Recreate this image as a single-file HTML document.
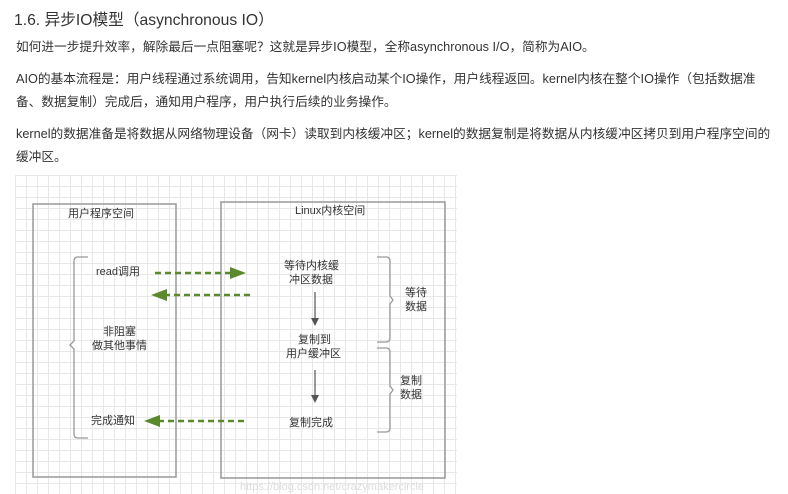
<!DOCTYPE html>
<html><head><meta charset="utf-8"><style>
body{margin:0;width:788px;height:494px;background:#fff;overflow:hidden;position:relative;font-family:"Liberation Sans","Noto Sans CJK SC",sans-serif;color:#333}
.t{position:absolute;white-space:nowrap}
p.t{margin:0;font-size:12.7px}
.d{position:absolute;white-space:nowrap;font-size:11px;color:#333;line-height:14px}
</style></head><body>
<div class="t" style="left:14px;top:7px;font-size:15.7px;color:#333">1.6. 异步IO模型（asynchronous IO）</div>
<p class="t" style="left:16px;top:36px">如何进一步提升效率，解除最后一点阻塞呢？这就是异步IO模型，全称asynchronous I/O，简称为AIO。</p>
<p class="t" style="left:16px;top:68px">AIO的基本流程是：用户线程通过系统调用，告知kernel内核启动某个IO操作，用户线程返回。kernel内核在整个IO操作（包括数据准</p>
<p class="t" style="left:16px;top:91px">备、数据复制）完成后，通知用户程序，用户执行后续的业务操作。</p>
<p class="t" style="left:16px;top:123px">kernel的数据准备是将数据从网络物理设备（网卡）读取到内核缓冲区；kernel的数据复制是将数据从内核缓冲区拷贝到用户程序空间的</p>
<p class="t" style="left:16px;top:146px">缓冲区。</p>
<div style="position:absolute;left:15px;top:175px;width:442px;height:319px;background-image:linear-gradient(#e8e8e8 1px,transparent 1px),linear-gradient(90deg,#e8e8e8 1px,transparent 1px);background-size:11px 11px"></div>
<svg width="788" height="494" style="position:absolute;left:0;top:0">
<rect x="33" y="204" width="143" height="273" fill="none" stroke="#999" stroke-width="1.5"/>
<rect x="221" y="202" width="224" height="276" fill="none" stroke="#999" stroke-width="1.5"/>
<path d="M88 257 H78 Q74 257 74 261 V341 L70 345 L74 349 V434 Q74 438 78 438 H88" fill="none" stroke="#999" stroke-width="1.3"/>
<path d="M377 257 H386 Q390 257 390 261 V296 L393 300 L390 304 V338 Q390 342 386 342 H377" fill="none" stroke="#999" stroke-width="1.3"/>
<path d="M377 348 H386 Q390 348 390 352 V386 L393 390 L390 394 V428 Q390 432 386 432 H377" fill="none" stroke="#999" stroke-width="1.3"/>
<g stroke="#5b8a2e" stroke-width="2.5" stroke-dasharray="6,4" fill="none">
<line x1="155" y1="273" x2="232" y2="273"/>
<line x1="250" y1="295" x2="166" y2="295"/>
<line x1="244" y1="421" x2="159" y2="421"/>
</g>
<g fill="#5b8a2e">
<polygon points="246,273 230,267 230,279"/>
<polygon points="151,295 167,289 167,301"/>
<polygon points="144,421 160,415 160,427"/>
</g>
<g stroke="#555" stroke-width="1.2"><line x1="315" y1="292" x2="315" y2="320"/><line x1="315" y1="370" x2="315" y2="397"/></g>
<g fill="#555"><polygon points="315,326 311,318 319,318"/><polygon points="315,403 311,395 319,395"/></g>
</svg>
<div class="d" style="left:68px;top:207px">用户程序空间</div>
<div class="d" style="left:295px;top:204px">Linux内核空间</div>
<div class="d" style="left:96px;top:265px">read调用</div>
<div class="d" style="left:284px;top:259px">等待内核缓</div>
<div class="d" style="left:289px;top:273px">冲区数据</div>
<div class="d" style="left:103px;top:325px">非阻塞</div>
<div class="d" style="left:92px;top:339px">做其他事情</div>
<div class="d" style="left:298px;top:333px">复制到</div>
<div class="d" style="left:286px;top:347px">用户缓冲区</div>
<div class="d" style="left:405px;top:286px">等待</div>
<div class="d" style="left:405px;top:300px">数据</div>
<div class="d" style="left:400px;top:374px">复制</div>
<div class="d" style="left:400px;top:388px">数据</div>
<div class="d" style="left:91px;top:414px">完成通知</div>
<div class="d" style="left:289px;top:416px">复制完成</div>
<div class="d" style="left:240px;top:480px;color:#ddd;font-size:11px">https://blog.csdn.net/crazymakercircle</div>
</body></html>
